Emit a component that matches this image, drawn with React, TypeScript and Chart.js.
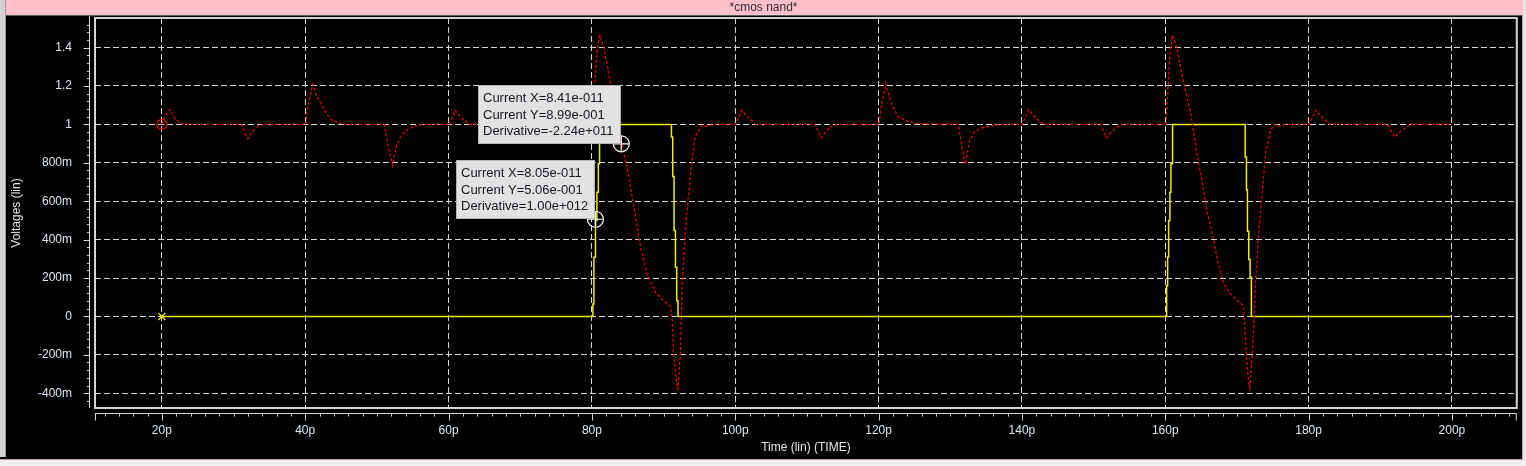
import React, { useEffect, useRef } from 'react';
import { Chart, registerables } from 'chart.js';

Chart.register(...registerables);

// ---- axis ranges / ticks (time in ps, voltage in V) ----
const X_MIN = 10.67;
const X_MAX = 209.05;
const Y_MIN = -0.477;
const Y_MAX = 1.554;

const X_TICKS = [20, 40, 60, 80, 100, 120, 140, 160, 180, 200];
const X_TICK_LABELS = ['20p', '40p', '60p', '80p', '100p', '120p', '140p', '160p', '180p', '200p'];
const X_MINOR_STEP = 2;

const Y_TICKS = [-0.4, -0.2, 0, 0.2, 0.4, 0.6, 0.8, 1, 1.2, 1.4];
const Y_TICK_LABELS = ['-400m', '-200m', '0', '200m', '400m', '600m', '800m', '1', '1.2', '1.4'];
const Y_MINOR_STEP = 0.04;

// ---- input (yellow, stepped: value changes at each time) ----
const IN_TIME = [20, 80.14, 80.28, 80.5, 80.7, 80.9, 81.07, 91.1, 91.28, 91.47, 91.66, 91.84, 92.02,
  160.19, 160.33, 160.47, 160.65, 160.79, 161.02, 171.15, 171.33, 171.47, 171.65, 171.84, 172.02, 200];
const IN_VOLT = [0, 0.065, 0.308, 0.5, 0.647, 0.795, 1.0, 0.934, 0.729, 0.447, 0.256, 0.082, 0,
  0.16, 0.31, 0.5, 0.647, 0.795, 1.0, 0.83, 0.66, 0.444, 0.296, 0.204, 0, 0];

// ---- output (red, dotted) ----
const OUT_TIME = [
  20, 20.4, 21.1, 21.8, 22.7, 23.5,
  31.1, 32.0, 32.7, 33.6, 34.5,
  40.05, 40.5, 41.07, 41.6, 42.2, 42.9, 43.6, 44.6, 45.7,
  51.05, 51.5, 52.2, 52.7, 53.3, 54.1, 55.2, 56.4,
  60.1, 60.9, 61.8, 62.9,
  71.1, 72.0, 72.7, 73.6, 74.5,
  80.2, 80.4, 80.7, 81.1, 81.7, 82.6, 83.5, 84.2, 85.15, 86.1, 86.8, 87.7, 88.9, 90.0, 91.0,
  91.2, 91.4, 91.9, 92.0, 92.35, 92.6, 93.05, 93.4, 93.9, 94.4, 95.3, 96.0, 97.0,
  100.05, 100.9, 101.8, 102.9,
  111.1, 112.0, 112.7, 113.6, 114.5,
  120.05, 120.5, 121.0, 121.8, 122.7, 124.1, 125.5,
  131.1, 131.6, 132.1, 132.7, 133.4, 134.3, 135.7, 137.1,
  140.05, 140.9, 141.8, 143.0,
  151.0, 151.8, 152.5, 153.6, 154.5,
  160.1, 160.33, 160.65, 161.0, 161.7, 162.2, 162.9, 163.6, 164.5, 165.2, 165.9, 166.6, 167.3,
  168.2, 169.1, 170.1, 170.9, 171.2, 171.6, 171.8, 172.2, 172.6, 173.1, 173.6, 174.0, 174.7,
  175.3, 175.8, 176.8,
  180.05, 181.0, 181.8, 183.0,
  191.0, 192.0, 192.8, 194.2, 200,
];
const OUT_VOLT = [
  1.0, 1.04, 1.077, 1.03, 1.005, 1.0,
  1.0, 0.926, 0.965, 0.995, 1.0,
  1.0, 1.12, 1.21, 1.15, 1.108, 1.06, 1.025, 1.008, 1.0,
  1.0, 0.9, 0.787, 0.88, 0.935, 0.969, 0.99, 1.0,
  1.0, 1.074, 1.035, 1.0,
  1.0, 0.93, 0.965, 0.995, 1.0,
  1.0, 1.213, 1.38, 1.465, 1.396, 1.213, 1.039, 0.9, 0.726, 0.517, 0.36, 0.221, 0.125, 0.082, 0.05,
  -0.022, -0.196, -0.37, -0.379, -0.196, 0.169, 0.447, 0.595, 0.795, 0.934, 0.995, 0.99, 1.0,
  1.0, 1.074, 1.035, 1.0,
  1.0, 0.93, 0.965, 0.995, 1.0,
  1.0, 1.12, 1.213, 1.108, 1.039, 1.016, 1.004,
  1.0, 0.89, 0.792, 0.917, 0.96, 0.981, 0.992, 1.0,
  1.0, 1.077, 1.04, 1.0,
  1.0, 0.93, 0.962, 0.995, 1.0,
  1.0, 1.143, 1.37, 1.465, 1.387, 1.282, 1.161, 1.048, 0.83, 0.69, 0.534, 0.43, 0.29,
  0.169, 0.117, 0.082, 0.056, -0.127, -0.336, -0.37, -0.17, 0.169, 0.465, 0.673, 0.848, 0.969,
  1.0, 0.99, 1.0,
  1.0, 1.074, 1.04, 1.0,
  1.0, 0.934, 0.962, 1.0, 1.0,
];

// ---- cursors ----
const CURSOR_TIME = [84.1, 80.5];
const CURSOR_VOLT = [0.899, 0.506];
const CURSOR_LINES = [
  ['Current X=8.41e-011', 'Current Y=8.99e-001', 'Derivative=-2.24e+011'],
  ['Current X=8.05e-011', 'Current Y=5.06e-001', 'Derivative=1.00e+012'],
];

const FONT = '"Liberation Sans", Arial, sans-serif';
const W = 1526;
const H = 466;

const chromePlugin = {
  id: 'chrome',
  beforeDraw(chart: any) {
    const ctx = chart.ctx;
    ctx.save();
    ctx.fillStyle = '#000000';
    ctx.fillRect(0, 0, W, H);
    // title bar
    ctx.fillStyle = '#ffc0cb';
    ctx.fillRect(6, 0, 1517, 15);
    ctx.fillStyle = '#5a5a5a';
    ctx.fillRect(6, 15, 1517, 1);
    // left strip
    ctx.fillStyle = '#d2d2d2';
    ctx.fillRect(0, 0, 5, 457);
    ctx.fillStyle = '#9a9a9a';
    ctx.fillRect(5, 0, 1, 457);
    // right edge
    ctx.fillStyle = '#c89aa2';
    ctx.fillRect(1522, 15, 1, 446);
    ctx.fillStyle = '#e6e6e6';
    ctx.fillRect(1523, 0, 3, H);
    // bottom edge
    ctx.fillStyle = '#c89aa2';
    ctx.fillRect(0, 459, 1523, 1);
    ctx.fillStyle = '#f0f0f0';
    ctx.fillRect(0, 460, W, 6);
    ctx.restore();
  },
};

const rulerPlugin = {
  id: 'rulers',
  afterDraw(chart: any) {
    const { ctx, chartArea } = chart;
    const xs = chart.scales.x;
    const ys = chart.scales.y;
    ctx.save();
    ctx.strokeStyle = '#d8d8d8';
    ctx.lineWidth = 1;
    // x ruler
    const ry = chartArea.bottom + 5.5;
    ctx.beginPath();
    ctx.moveTo(chartArea.left, ry);
    ctx.lineTo(chartArea.right, ry);
    const xStart = Math.ceil(X_MIN / X_MINOR_STEP) * X_MINOR_STEP;
    for (let t = xStart; t <= X_MAX; t += X_MINOR_STEP) {
      const px = Math.round(xs.getPixelForValue(t)) + 0.5;
      const major = Math.abs(t / 20 - Math.round(t / 20)) < 1e-6;
      ctx.moveTo(px, ry);
      ctx.lineTo(px, ry + (major ? 7 : 3));
    }
    ctx.moveTo(chartArea.left + 0.5, ry);
    ctx.lineTo(chartArea.left + 0.5, ry + 7);
    ctx.moveTo(chartArea.right - 0.5, ry);
    ctx.lineTo(chartArea.right - 0.5, ry + 7);
    // y ruler
    const rx = chartArea.left - 5.5;
    ctx.moveTo(rx, chartArea.top - 2);
    ctx.lineTo(rx, chartArea.bottom);
    const nMin = Math.ceil(Y_MIN / Y_MINOR_STEP);
    const nMax = Math.floor(Y_MAX / Y_MINOR_STEP);
    for (let n = nMin; n <= nMax; n++) {
      const v = n * Y_MINOR_STEP;
      const py = Math.round(ys.getPixelForValue(v)) + 0.5;
      const major = n % 5 === 0;
      ctx.moveTo(rx, py);
      ctx.lineTo(rx - (major ? 6 : 2.5), py);
    }
    ctx.stroke();
    // plot frame
    ctx.strokeStyle = '#d4d4d4';
    ctx.lineWidth = 2;
    ctx.strokeRect(chartArea.left, chartArea.top, chartArea.right - chartArea.left, chartArea.bottom - chartArea.top);
    ctx.restore();
  },
};

const boxPlugin = {
  id: 'cursorBoxes',
  afterDatasetsDraw(chart: any) {
    const { ctx } = chart;
    const xs = chart.scales.x;
    const ys = chart.scales.y;
    ctx.save();
    ctx.font = '13px ' + FONT;
    CURSOR_TIME.forEach((t, i) => {
      const px = xs.getPixelForValue(t);
      const py = ys.getPixelForValue(CURSOR_VOLT[i]);
      const lines = CURSOR_LINES[i];
      const w = Math.round(Math.max(...lines.map((l) => ctx.measureText(l).width)) + 12);
      const h = 59;
      const x0 = Math.round(px - w);
      const y0 = Math.round(py - h);
      ctx.fillStyle = '#e2e2e2';
      ctx.fillRect(x0, y0, w, h);
      ctx.strokeStyle = '#b4b4b4';
      ctx.lineWidth = 1;
      ctx.strokeRect(x0 + 0.5, y0 + 0.5, w - 1, h - 1);
      ctx.fillStyle = '#161622';
      ctx.textAlign = 'left';
      ctx.textBaseline = 'middle';
      lines.forEach((l, j) => ctx.fillText(l, x0 + 5, y0 + 13.5 + j * 16.5));
    });
    ctx.restore();
  },
};

export default function App() {
  const ref = useRef<HTMLCanvasElement>(null);

  useEffect(() => {
    const canvas = ref.current;
    if (!canvas) return;
    const outData = OUT_TIME.map((t, i) => ({ x: t, y: OUT_VOLT[i] }));
    const inData = IN_TIME.map((t, i) => ({ x: t, y: IN_VOLT[i] }));
    const cursorData = CURSOR_TIME.map((t, i) => ({ x: t, y: CURSOR_VOLT[i] }));
    const tickColor = '#dce6f2';

    const chart = new Chart(canvas, {
      type: 'line',
      data: {
        datasets: [
          {
            label: 'out',
            data: outData,
            borderColor: '#e00000',
            borderWidth: 1.3,
            borderDash: [3, 2],
            tension: 0,
            pointStyle: 'circle',
            pointRadius: (c: any) => (c.dataIndex === 0 ? 5 : 0),
            pointBorderColor: '#e00000',
            pointBackgroundColor: 'rgba(0,0,0,0)',
            pointBorderWidth: 1.3,
            order: 1,
          },
          {
            label: 'in',
            data: inData,
            stepped: true,
            borderColor: '#eeee00',
            borderWidth: 1.5,
            pointStyle: 'crossRot',
            pointRadius: (c: any) => (c.dataIndex === 0 ? 5 : 0),
            pointBorderColor: '#eeee00',
            pointBorderWidth: 1.3,
            order: 2,
          },
          {
            label: 'cursor ring',
            data: cursorData,
            showLine: false,
            pointStyle: 'circle',
            pointRadius: 8,
            pointBorderColor: '#ffffff',
            pointBackgroundColor: 'rgba(0,0,0,0)',
            pointBorderWidth: 1.2,
            order: 0,
          },
          {
            label: 'cursor cross',
            data: cursorData,
            showLine: false,
            pointStyle: 'cross',
            pointRadius: 8,
            pointBorderColor: '#ffffff',
            pointBorderWidth: 1.2,
            order: 0,
          },
        ],
      } as any,
      options: {
        animation: false,
        responsive: false,
        maintainAspectRatio: false,
        events: [],
        layout: { padding: { left: 7, right: 6, top: 0, bottom: 7 } },
        plugins: {
          legend: { display: false },
          tooltip: { enabled: false },
          title: {
            display: true,
            text: '*cmos nand*',
            color: '#352a35',
            font: { family: FONT, size: 12, weight: 'normal', lineHeight: '14px' },
            padding: { top: 1, bottom: 3 },
          },
        },
        scales: {
          x: {
            type: 'linear',
            min: X_MIN,
            max: X_MAX,
            afterBuildTicks: (s: any) => {
              s.ticks = X_TICKS.map((v) => ({ value: v }));
            },
            afterFit: (s: any) => {
              s.height = 51;
              s.paddingLeft = 0;
              s.paddingRight = 0;
            },
            ticks: {
              callback: (v: any) => X_TICK_LABELS[X_TICKS.indexOf(v)],
              color: tickColor,
              font: { family: FONT, size: 12, lineHeight: '14px' },
              padding: 16,
              maxRotation: 0,
              autoSkip: false,
            },
            grid: { color: '#d6d6d6', lineWidth: 1, drawTicks: false },
            border: { display: false, dash: [6, 3] },
            title: {
              display: true,
              text: 'Time (lin) (TIME)',
              color: '#e4e8ee',
              font: { family: FONT, size: 12, lineHeight: '14px' },
              padding: { top: 0, bottom: 4 },
            },
          },
          y: {
            type: 'linear',
            min: Y_MIN,
            max: Y_MAX,
            afterBuildTicks: (s: any) => {
              s.ticks = Y_TICKS.map((v) => ({ value: v }));
            },
            afterFit: (s: any) => {
              s.width = 88;
              s.paddingTop = 0;
              s.paddingBottom = 0;
            },
            ticks: {
              callback: (v: any) => Y_TICK_LABELS[Y_TICKS.indexOf(v)],
              color: tickColor,
              font: { family: FONT, size: 12, lineHeight: '14px' },
              padding: 23,
              autoSkip: false,
            },
            grid: { color: '#d6d6d6', lineWidth: 1, drawTicks: false },
            border: { display: false, dash: [6, 3] },
            title: {
              display: true,
              text: 'Voltages (lin)',
              color: '#e4e8ee',
              font: { family: FONT, size: 12, lineHeight: '14px' },
              padding: { top: 3, bottom: 0 },
            },
          },
        },
      } as any,
      plugins: [chromePlugin, rulerPlugin, boxPlugin],
    });
    return () => chart.destroy();
  }, []);

  return (
    <div style={{ position: 'fixed', left: 0, top: 0, width: W, height: H }}>
      <canvas ref={ref} width={W} height={H} style={{ display: 'block', width: W, height: H }} />
    </div>
  );
}
